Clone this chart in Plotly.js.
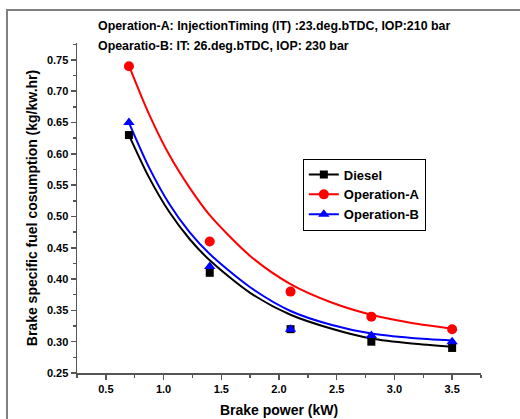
<!DOCTYPE html>
<html>
<head>
<meta charset="utf-8">
<script src="https://cdn.plot.ly/plotly-3.0.1.min.js"></script>
<style>html,body{margin:0;padding:0;background:#fff;}#chart{width:520px;height:419px;}</style>
</head>
<body>
<div id="chart"></div>
<script>
// Measured points
var powerKW = [0.7, 1.4, 2.1, 2.8, 3.5];
var dieselBSFC = [0.63, 0.41, 0.32, 0.30, 0.29];
var opA_BSFC = [0.74, 0.46, 0.38, 0.34, 0.32];
var opB_BSFC = [0.65, 0.42, 0.32, 0.31, 0.30];

// Fitted curves
var curveX = [0.7, 0.875, 1.05, 1.225, 1.4, 1.75, 2.1, 2.45, 2.8, 3.15, 3.5];
var dieselCurve = [0.630, 0.562, 0.507, 0.464, 0.430, 0.378, 0.343, 0.321, 0.305, 0.297, 0.292];
var opA_Curve = [0.741, 0.663, 0.598, 0.546, 0.502, 0.437, 0.392, 0.363, 0.343, 0.330, 0.321];
var opB_Curve = [0.650, 0.578, 0.520, 0.475, 0.440, 0.387, 0.349, 0.327, 0.313, 0.306, 0.302];

var seriesNames = ['Diesel', 'Operation-A', 'Operation-B'];
var note1 = 'Operation-A: InjectionTiming (IT) :23.deg.bTDC, IOP:210 bar';
var note2 = 'Opearatio-B: IT: 26.deg.bTDC, IOP: 230 bar';

var colors = ['#000000', '#ff0000', '#0000ff'];
var symbols = ['square', 'circle', 'triangle-up'];
var sizes = [8, 10, 10];
var pts = [dieselBSFC, opA_BSFC, opB_BSFC];
var curves = [dieselCurve, opA_Curve, opB_Curve];

var traces = [];
for (var i = 0; i < 3; i++) {
  traces.push({x: curveX, y: curves[i], mode: 'lines', line: {color: colors[i], width: 2, shape: 'spline', smoothing: 0.8}, showlegend: false, hoverinfo: 'skip'});
}
for (var i = 0; i < 3; i++) {
  traces.push({x: powerKW, y: pts[i], mode: 'markers', marker: {color: colors[i], symbol: symbols[i], size: sizes[i]}, showlegend: false});
}
for (var i = 0; i < 3; i++) {
  traces.push({x: [null], y: [null], mode: 'lines+markers', name: seriesNames[i], line: {color: colors[i], width: 2}, marker: {color: colors[i], symbol: symbols[i], size: sizes[i]}});
}

var FAM = 'Liberation Sans, Arial, sans-serif';
var fnt = {family: FAM, size: 11, color: '#000', weight: 'bold'};
var axisCommon = {
  showgrid: false, zeroline: false, showline: true, linecolor: '#555', linewidth: 1.5,
  ticks: 'outside', ticklen: 5, tickwidth: 1.5, tickcolor: '#555', mirror: false,
  tickfont: fnt
};

var layout = {
  width: 520, height: 419,
  margin: {l: 77, r: 39, t: 43, b: 46},
  paper_bgcolor: '#fff', plot_bgcolor: '#fff',
  font: fnt,
  xaxis: Object.assign({}, axisCommon, {
    range: [0.25, 3.75], dtick: 0.5, tick0: 0.5, tickformat: '.1f',
    minor: {dtick: 0.25, tick0: 0.25, ticks: 'outside', ticklen: 3, tickcolor: '#555', tickwidth: 1.5},
    title: {text: 'Brake power (kW)', font: {family: FAM, size: 14, weight: 'bold', color: '#000'}, standoff: 11}
  }),
  yaxis: Object.assign({}, axisCommon, {
    range: [0.25, 0.777], dtick: 0.05, tick0: 0.25, tickformat: '.2f',
    minor: {dtick: 0.025, tick0: 0.25, ticks: 'outside', ticklen: 3, tickcolor: '#555', tickwidth: 1.5},
    title: {text: 'Brake specific fuel cosumption (kg/kw.hr)', font: {family: FAM, size: 14, weight: 'bold', color: '#000'}, standoff: 6}
  }),
  legend: {
    x: 0.559, y: 0.65, xanchor: 'left', yanchor: 'top',
    bordercolor: '#000', borderwidth: 1, bgcolor: '#fff',
    font: {family: FAM, size: 13, weight: 'bold', color: '#000'},
    tracegroupgap: 0
  },
  annotations: [
    {text: note1, xref: 'paper', yref: 'paper', x: 0.047, y: 1.0515, xanchor: 'left', yanchor: 'middle', showarrow: false, font: {family: FAM, size: 12.4, weight: 'bold', color: '#000'}},
    {text: note2, xref: 'paper', yref: 'paper', x: 0.047, y: 0.991, xanchor: 'left', yanchor: 'middle', showarrow: false, font: {family: FAM, size: 12.4, weight: 'bold', color: '#000'}}
  ],
  shapes: [
    {type: 'rect', xref: 'paper', yref: 'paper', x0: -0.1733, x1: 1.2, y0: -0.25, y1: 1.1, line: {color: '#808080', width: 2}, fillcolor: 'rgba(0,0,0,0)', layer: 'below'}
  ]
};

Plotly.newPlot('chart', traces, layout, {staticPlot: true, displayModeBar: false});
</script>
</body>
</html>
